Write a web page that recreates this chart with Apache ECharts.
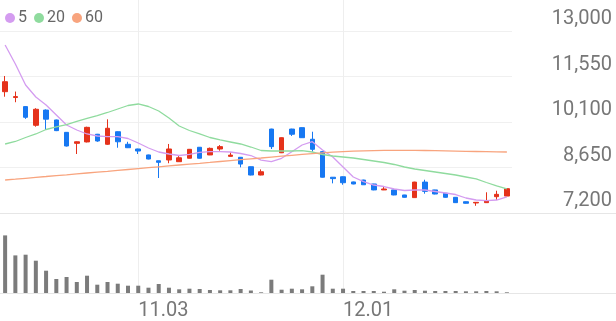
<!DOCTYPE html>
<html>
<head>
<meta charset="utf-8">
<script src="https://cdn.jsdelivr.net/npm/echarts@6/dist/echarts.min.js"></script>
<style>html,body{margin:0;padding:0;background:#fff}#c{width:616px;height:321px}</style>
</head>
<body>
<div id="c"></div>
<script>
const dates = ['10.17','10.18','10.19','10.20','10.23','10.24','10.25','10.26','10.27','10.30','10.31','11.01','11.02','11.03','11.06','11.07','11.08','11.09','11.10','11.13','11.14','11.15','11.16','11.17','11.20','11.21','11.22','11.23','11.24','11.27','11.28','11.29','11.30','12.01','12.04','12.05','12.06','12.07','12.08','12.11','12.12','12.13','12.14','12.15','12.18','12.19','12.20','12.21','12.22','12.26'];
const tickDates = ['11.03','12.01'];
const priceTicks = [7200, 8650, 10100, 11550, 13000];
const open  = [11066,10880,10590,9995,10480,10165,9770,9420,9465,9710,9390,9790,9390,9240,9050,8865,8890,8835,8945,9295,9050,9240,9005,8975,8675,8410,9875,9120,9875,9920,9550,9155,8340,8355,8190,8250,8125,7935,7935,7775,7690,8185,7935,7830,7700,7560,7520,7530,7720,7740];
const close = [11384,10910,10250,10505,10190,9825,9335,9470,9930,9495,9900,9470,9280,9175,8920,8815,9240,8960,9230,8945,9260,9315,9045,8760,8410,8515,9315,9600,9710,9600,9230,8340,8295,8165,8125,8100,7935,7965,7775,7700,8185,7890,7805,7700,7530,7510,7540,7580,7795,7975];
const low   = [10906,10730,10200,9950,9845,9810,9320,9080,9450,9470,9370,9280,9270,9080,8910,8315,8785,8830,8940,8935,9045,9185,9000,8655,8400,8400,9240,9110,9655,9590,9155,8330,8145,8100,8115,8095,7925,7930,7765,7690,7680,7815,7795,7690,7520,7500,7430,7520,7615,7730];
const high  = [11566,11070,10600,10540,10500,10175,9780,9480,9950,9720,10185,9800,9470,9250,9060,8870,9400,9015,9240,9300,9285,9365,9135,8985,8680,8590,9885,9610,9885,9930,9790,9165,8345,8365,8200,8260,8130,8040,7940,7780,8195,8260,7940,7835,7705,7565,7545,7860,7910,7985];
const volume = [576000,376000,383000,323000,223000,140000,160000,110000,173000,83000,110000,93000,73000,73000,53000,90000,53000,37000,43000,40000,30000,27000,27000,40000,25000,7000,133000,33000,43000,37000,67000,183000,43000,43000,20000,20000,20000,13000,37000,23000,30000,23000,20000,20000,20000,17000,17000,20000,17000,7000];
const ma5  = [12554,11948,11279,10897,10642,10323,10004,9845,9718,9654,9632,9632,9574,9431,9271,9144,9080,9032,9071,9135,9154,9154,9144,9096,9032,8888,8835,8943,9154,9367,9472,9208,8985,8666,8347,8197,8092,8044,7965,7917,7933,7933,7885,7837,7789,7678,7614,7592,7614,7710];
const ma20 = [9399,9479,9606,9718,9861,9941,10020,10116,10212,10307,10403,10514,10626,10674,10594,10451,10228,9973,9829,9718,9606,9527,9463,9399,9303,9192,9176,9176,9176,9185,9144,9064,9016,8985,8953,8905,8857,8809,8746,8666,8602,8554,8507,8459,8411,8347,8284,8172,8061,7965];
const ma60 = [8252,8277,8306,8335,8363,8392,8417,8446,8475,8503,8529,8558,8586,8615,8643,8672,8701,8730,8758,8784,8812,8841,8870,8899,8927,8953,8981,9010,9039,9067,9093,9118,9138,9157,9170,9179,9189,9195,9198,9198,9195,9192,9185,9179,9173,9166,9160,9154,9147,9144];

const UP = '#e5321b', DOWN = '#1778f2';
const C5 = '#d49cf0', C20 = '#8fdb9e', C60 = '#f8a47e';
const candles = dates.map((d, i) => [open[i], close[i], low[i], high[i]]);
const isTick = (i) => tickDates.indexOf(dates[i]) >= 0;

const chart = echarts.init(document.getElementById('c'), null, {renderer: 'canvas'});
chart.setOption({
  animation: false,
  textStyle: {fontFamily: 'Roboto'},
  legend: {
    left: 0, top: 5, icon: 'circle', itemWidth: 10, itemHeight: 10, itemGap: 7,
    textStyle: {fontSize: 16, color: '#666', padding: [0, 0, 0, -2]},
    data: [{name: '5', itemStyle: {color: C5}}, {name: '20', itemStyle: {color: C20}}, {name: '60', itemStyle: {color: C60}}]
  },
  grid: [
    {left: 0, right: 104, top: 31, bottom: 108},
    {left: 0, right: 104, top: 233, bottom: 28},
    {left: 5.12, right: 109.12, top: 0, bottom: 27}
  ],
  xAxis: [
    {type: 'category', gridIndex: 0, data: dates, boundaryGap: true, axisLine: {show: false}, axisTick: {show: false}, axisLabel: {show: false}, splitLine: {show: false}},
    {type: 'category', gridIndex: 1, data: dates, boundaryGap: true, axisLine: {show: false}, axisTick: {show: false}, axisLabel: {show: false}, splitLine: {show: false}},
    {type: 'category', gridIndex: 2, data: dates, boundaryGap: false, axisLine: {show: false}, axisTick: {show: false},
     axisLabel: {show: true, interval: (i) => isTick(i), align: 'left', margin: 9, fontSize: 20, color: '#777'},
     splitLine: {show: true, interval: (i) => isTick(i), lineStyle: {color: '#eeeeee', width: 1}}}
  ],
  yAxis: [
    {type: 'value', gridIndex: 0, position: 'right', min: priceTicks[0], max: priceTicks[priceTicks.length - 1], interval: priceTicks[1] - priceTicks[0],
     axisLine: {show: false}, axisTick: {show: false},
     axisLabel: {align: 'right', margin: 100, verticalAlign: 'bottom', fontSize: 20, color: '#777', padding: [0, 0, 2, 0],
       formatter: (v) => v.toLocaleString('en-US')},
     splitLine: {lineStyle: {color: '#f0f0f0', width: 1}}},
    {type: 'value', gridIndex: 1, min: 0, max: 600000, show: false, splitLine: {show: false}},
    {type: 'value', gridIndex: 2, min: 0, max: 1, show: false, splitLine: {show: false}}
  ],
  graphic: [
    {type: 'line', shape: {x1: 0, y1: 213.5, x2: 616, y2: 213.5}, style: {stroke: '#e6e6e6', lineWidth: 1}, z: 1},
    {type: 'line', shape: {x1: 0, y1: 293.5, x2: 616, y2: 293.5}, style: {stroke: '#e6e6e6', lineWidth: 1}, z: 1}
  ],
  series: [
    {type: 'candlestick', name: 'price', xAxisIndex: 0, yAxisIndex: 0, data: candles, barWidth: 5,
     itemStyle: {color: UP, color0: DOWN, borderColor: UP, borderColor0: DOWN, borderWidth: 1}},
    {type: 'line', name: '5', xAxisIndex: 0, yAxisIndex: 0, data: ma5, symbol: 'none', lineStyle: {color: C5, width: 1.3}, itemStyle: {color: C5}},
    {type: 'line', name: '20', xAxisIndex: 0, yAxisIndex: 0, data: ma20, symbol: 'none', lineStyle: {color: C20, width: 1.3}, itemStyle: {color: C20}},
    {type: 'line', name: '60', xAxisIndex: 0, yAxisIndex: 0, data: ma60, symbol: 'none', lineStyle: {color: C60, width: 1.3}, itemStyle: {color: C60}},
    {type: 'bar', name: 'volume', xAxisIndex: 1, yAxisIndex: 1, data: volume, barWidth: 4, itemStyle: {color: '#7b7b7b'}}
  ]
});
</script>
</body>
</html>
